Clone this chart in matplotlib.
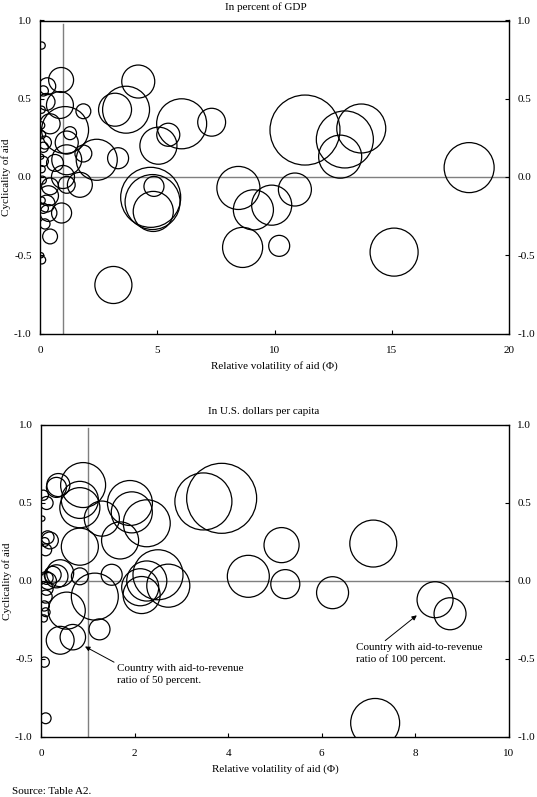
import numpy as np
import matplotlib.pyplot as plt

plt.rcParams['font.family'] = ['Liberation Serif', 'DejaVu Serif']
plt.rcParams['axes.unicode_minus'] = False
plt.rcParams['font.size'] = 8

# -----------------------------
# DATA
# -----------------------------
# panel 1: aid in percent of GDP
gdp_vol = [0.07, 0.90, 0.31, 0.85, 0.28, 1.85, 1.07, 0.43, 1.28, 0.21,
           1.14, 2.42, 1.85, 3.33, 1.14, 0.64, 0.98, 1.14, 1.70, 0.43,
           0.36, 0.28, 0.92, 0.36, 0.21, 0.43, 0.07, 0.05,
           0.07, 0.05, 0.14, 0.14, 0.07, 0.10, 0.07, 0.14, 0.07, 0.14, 0.05,
           3.20, 3.67, 4.19, 5.05, 5.47, 6.04, 7.32, 4.72, 4.80, 4.83,
           4.86, 3.13, 8.46, 8.64, 9.10, 9.88, 10.87, 10.20, 11.30, 13.00,
           13.70, 12.80, 18.30, 15.10]
gdp_cyc = [0.84, 0.62, 0.58, 0.46, 0.48, 0.42, 0.30, 0.34, 0.28, 0.22,
           0.22, 0.11, 0.15, 0.12, 0.11, 0.09, 0.00, -0.05, -0.05, -0.06,
           -0.12, -0.17, -0.23, -0.23, -0.30, -0.38, -0.53, -0.50,
           0.27, 0.33, 0.19, 0.10, 0.05, -0.02, -0.15, -0.20, 0.43, 0.55, 0.13,
           0.43, 0.43, 0.61, 0.20, 0.27, 0.34, 0.35, -0.13, -0.16, -0.22,
           -0.06, -0.69, -0.07, -0.45, -0.21, -0.18, -0.08, -0.44, 0.30, 0.24,
           0.31, 0.13, 0.06, -0.48]
# aid-to-revenue ratio, percent (bubble area)
gdp_ratio = [4, 48, 22, 56, 22, 17, 170, 31, 13, 13,
             41, 130, 22, 34, 69, 22, 41, 22, 48, 22,
             31, 22, 31, 22, 8, 17, 5, 2,
             5, 4, 8, 8, 4, 5, 4, 8, 4, 8, 2,
             84, 170, 84, 106, 41, 193, 60, 278, 233, 124,
             31, 106, 143, 124, 124, 124, 84, 34, 378, 251,
             185, 143, 193, 178]

# panel 2: aid in U.S. dollars per capita
usd_vol = [0.90, 0.37, 0.33, 0.83, 0.83, 0.12, 1.30, 1.90, 1.94, 2.26,
           1.69, 0.83, 0.19, 0.14, 0.10, 0.08, 0.41, 0.33, 0.25, 0.12,
           0.83, 1.51, 1.15, 0.55, 0.41, 0.68, 1.25, 0.07, 0.10, 0.03,
           0.05, 0.12, 0.10, 0.07, 0.10, 0.06, 0.15,
           2.12, 2.26, 2.50, 2.72, 2.15, 3.47, 3.86, 4.43, 5.14, 5.22,
           6.23, 7.10, 8.42, 8.74, 7.14]
usd_cyc = [0.615, 0.615, 0.60, 0.52, 0.47, 0.50, 0.40, 0.50, 0.44, 0.37,
           0.26, 0.22, 0.26, 0.28, 0.20, 0.25, 0.05, 0.03, 0.04, 0.02,
           0.03, 0.04, -0.10, -0.19, -0.38, -0.36, -0.31, -0.52, -0.88, 0.40,
           0.55, -0.05, -0.10, -0.16, -0.20, -0.24, 0.00,
           -0.04, 0.00, 0.04, -0.03, -0.09, 0.51, 0.53, 0.03, 0.23, -0.02,
           -0.075, 0.24, -0.12, -0.21, -0.91]
usd_ratio = [156, 41, 31, 106, 124, 13, 95, 156, 130, 170,
             106, 106, 22, 13, 11, 6, 56, 41, 22, 13,
             22, 34, 170, 106, 60, 50, 34, 8, 9, 2,
             8, 13, 13, 8, 6, 4, 22,
             106, 124, 193, 143, 106, 251, 378, 136, 95, 65,
             79, 170, 100, 79, 185]

W, H, DPI = 537, 797, 100
# bubble area scale: a 100 percent ratio draws a 36 px circle
AREA = (36 * 72 / DPI) ** 2 / 100


def draw_panel(ax, x, y, ratio, xmax, xstep):
    ax.scatter(x, y, s=np.array(ratio) * AREA, facecolors='none',
               edgecolors='black', linewidths=0.9, zorder=3)
    ax.axhline(0, color='#7f7f7f', lw=1.0, zorder=1)
    ax.axvline(1, ymax=0.99, color='#7f7f7f', lw=1.0, zorder=1)
    ax.set_xlim(0, xmax)
    ax.set_ylim(-1, 1)
    ax.set_xticks(np.arange(0, xmax + 0.01, xstep))
    ax.set_yticks([-1.0, -0.5, 0.0, 0.5, 1.0])
    ax.set_yticklabels(["-1.0", "-0.5", "0.0", "0.5", "1.0"])
    ax.tick_params(axis='both', direction='in', length=3, width=0.8,
                   labelsize=8, right=True, labelright=True, pad=6)
    ax.tick_params(axis='x', pad=9)
    for sp in ax.spines.values():
        sp.set_linewidth(1.0)
    ax.set_ylabel("Cyclicality of aid", labelpad=2)
    ax.set_xlabel("Relative volatility of aid (\u03a6)", labelpad=4)


fig = plt.figure(figsize=(W / DPI, H / DPI), dpi=DPI)

ax1 = fig.add_axes([40 / W, 1 - 333.5 / H, 469 / W, 313 / H])
draw_panel(ax1, gdp_vol, gdp_cyc, gdp_ratio, 20, 5)
fig.text(266 / W, 1 - 7 / H, "In percent of GDP", ha='center', va='center')

ax2 = fig.add_axes([41 / W, 1 - 737 / H, 468 / W, 312 / H])
draw_panel(ax2, usd_vol, usd_cyc, usd_ratio, 10, 2)
fig.text(264 / W, 1 - 411 / H, "In U.S. dollars per capita",
         ha='center', va='center')

ax2.annotate("Country with aid-to-revenue\nratio of 50 percent.",
             xy=(0.94, -0.42), xytext=(1.62, -0.53),
             ha='left', va='top', fontsize=8, linespacing=1.3,
             arrowprops=dict(arrowstyle='-|>', color='black', lw=0.7,
                             mutation_scale=7, shrinkA=0, shrinkB=0,
                             relpos=(0, 1)))
ax2.annotate("Country with aid-to-revenue\nratio of 100 percent.",
             xy=(8.03, -0.22), xytext=(6.74, -0.40),
             ha='left', va='top', fontsize=8, linespacing=1.3,
             arrowprops=dict(arrowstyle='-|>', color='black', lw=0.7,
                             mutation_scale=7, shrinkA=0, shrinkB=0,
                             relpos=(0.2, 1)))

fig.text(12 / W, 1 / H, "Source: Table A2.", ha='left', va='bottom',
         fontsize=8)

fig.savefig("out.png", dpi=DPI)
